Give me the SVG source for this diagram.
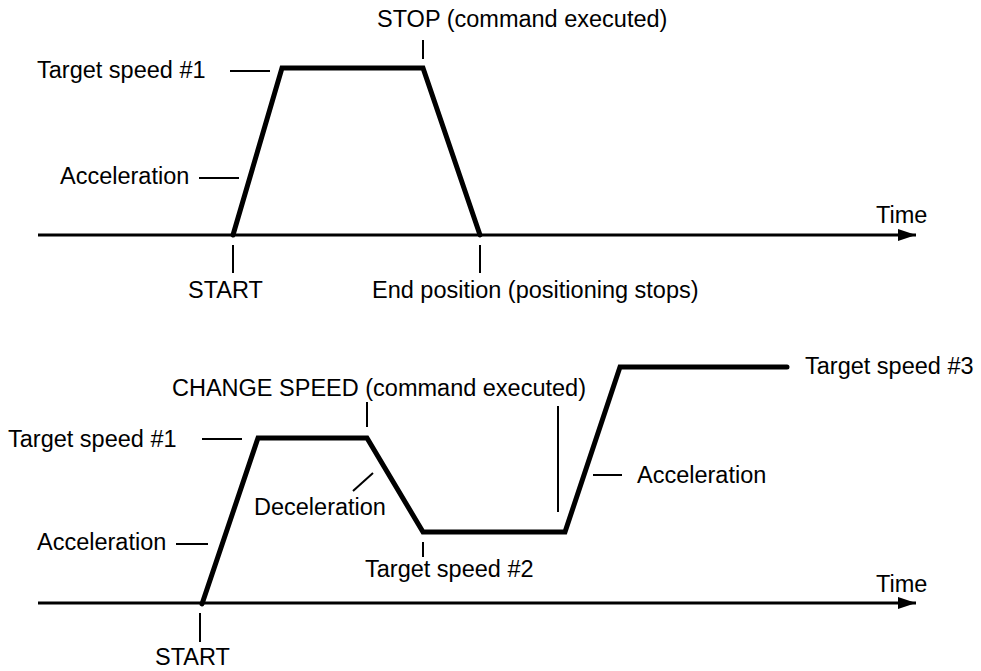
<svg xmlns="http://www.w3.org/2000/svg" width="981" height="671" viewBox="0 0 981 671">
<style>
text{font-family:"Liberation Sans",Arial,sans-serif;font-size:23.5px;fill:#000}
.axis{stroke:#000;stroke-width:3;fill:none}
.prof{stroke:#000;stroke-width:5;fill:none;stroke-linejoin:miter;stroke-linecap:round}
.tick{stroke:#000;stroke-width:2;fill:none}
</style>
<defs>
<marker id="arr" markerWidth="20" markerHeight="12" refX="18" refY="6" orient="auto" markerUnits="userSpaceOnUse">
<path d="M0,0 L18,6 L0,12 Z" fill="#000"/>
</marker>
</defs>
<rect width="981" height="671" fill="#fff"/>
<g id="top-chart">
<line class="axis" x1="38" y1="235" x2="916" y2="235" marker-end="url(#arr)"/>
<polyline class="prof" points="233,235 282,68 423,68 480,235"/>
<g id="connectors-top">
<line class="tick" x1="423" y1="40" x2="423" y2="59"/>
<line class="tick" x1="230" y1="71" x2="270" y2="71"/>
<line class="tick" x1="199" y1="178" x2="239" y2="178"/>
<line class="tick" x1="233" y1="245" x2="233" y2="273"/>
<line class="tick" x1="480" y1="245" x2="480" y2="273"/>
</g>
<text x="377" y="27">STOP (command executed)</text>
<text x="37" y="78">Target speed #1</text>
<text x="60" y="184">Acceleration</text>
<text x="188" y="298">START</text>
<text x="372" y="298">End position (positioning stops)</text>
<text x="876" y="223">Time</text>
</g>
<g id="bottom-chart">
<line class="axis" x1="38" y1="603" x2="916" y2="603" marker-end="url(#arr)"/>
<polyline class="prof" points="202,604 258,438 367,438 423,532 565,532 620,367 787,367"/>
<g id="connectors-bottom">
<line class="tick" x1="367" y1="402" x2="367" y2="427"/>
<line class="tick" x1="558" y1="406" x2="558" y2="512"/>
<line class="tick" x1="202" y1="439" x2="242" y2="439"/>
<line class="tick" x1="373" y1="473" x2="353" y2="491"/>
<line class="tick" x1="176" y1="544" x2="208" y2="544"/>
<line class="tick" x1="423" y1="542" x2="423" y2="557"/>
<line class="tick" x1="593" y1="475" x2="622" y2="475"/>
<line class="tick" x1="200" y1="613" x2="200" y2="642"/>
</g>
<text x="172" y="396">CHANGE SPEED (command executed)</text>
<text x="805" y="374">Target speed #3</text>
<text x="8" y="447">Target speed #1</text>
<text x="254" y="515">Deceleration</text>
<text x="637" y="483">Acceleration</text>
<text x="37" y="550">Acceleration</text>
<text x="365" y="577">Target speed #2</text>
<text x="876" y="592">Time</text>
<text x="155" y="665">START</text>
</g>
</svg>
